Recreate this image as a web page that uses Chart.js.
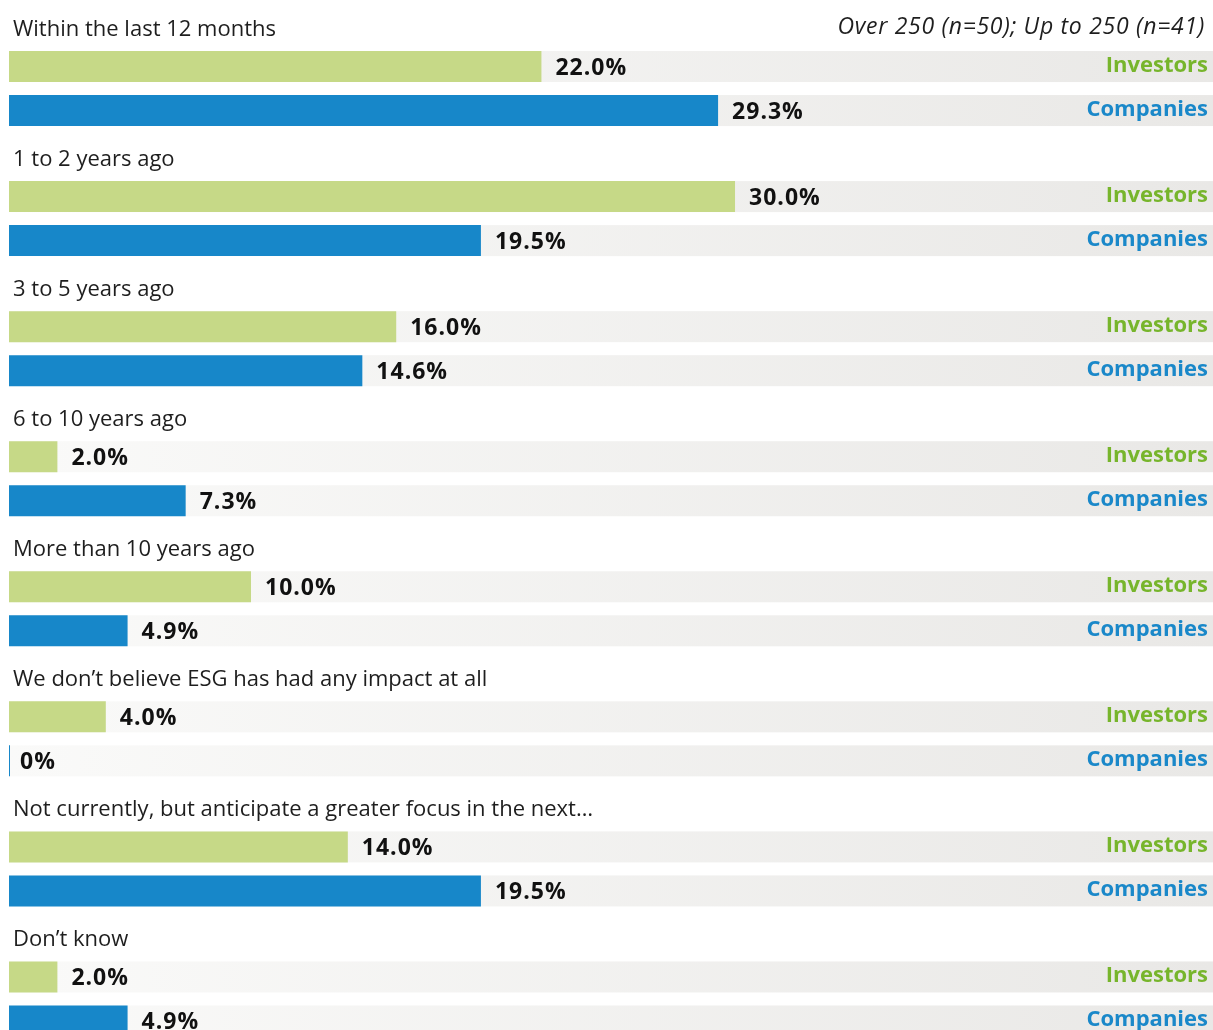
<!DOCTYPE html>
<html>
<head>
<meta charset="utf-8">
<title>ESG focus timing</title>
<script src="https://cdn.jsdelivr.net/npm/chart.js@4/dist/chart.umd.min.js"></script>
<style>
  html, body { margin: 0; padding: 0; background: #ffffff; overflow: hidden; }
  #wrap { position: relative; width: 1213px; height: 1030px; overflow: hidden; }
  canvas { display: block; }
</style>
</head>
<body>
<div id="wrap"><canvas id="chart" width="1213" height="1064"></canvas></div>
<script>
// Answer options, in survey order
const categories = [
  'Within the last 12 months',
  '1 to 2 years ago',
  '3 to 5 years ago',
  '6 to 10 years ago',
  'More than 10 years ago',
  'We don\u2019t believe ESG has had any impact at all',
  'Not currently, but anticipate a greater focus in the next\u2026',
  'Don\u2019t know'
];
// Share of respondents (%)
const investors = [22.0, 30.0, 16.0, 2.0, 10.0, 4.0, 14.0, 2.0];
const companies = [29.3, 19.5, 14.6, 7.3, 4.9, 0, 19.5, 4.9];
const seriesNames = ['Investors', 'Companies'];
const sampleNote = 'Over 250 (n=50); Up to 250 (n=41)';

const barColors = ['#c6d987', '#1787c9'];
const nameColors = ['#77b52c', '#1a88c9'];
const FONT = '"Open Sans", "Noto Sans", sans-serif';

function fmt(v) {
  return v === 0 ? '0%' : v.toFixed(1) + '%';
}

// Light track behind every bar, fading from near-white to pale grey
const trackPlugin = {
  id: 'tracks',
  beforeDatasetsDraw(chart) {
    const { ctx, chartArea } = chart;
    const grad = ctx.createLinearGradient(chartArea.left, 0, chartArea.right, 0);
    grad.addColorStop(0, '#fafaf9');
    grad.addColorStop(1, '#e9e8e6');
    ctx.save();
    ctx.fillStyle = grad;
    chart.data.datasets.forEach((ds, di) => {
      chart.getDatasetMeta(di).data.forEach(bar => {
        const h = bar.height;
        ctx.fillRect(chartArea.left, bar.y - h / 2, chartArea.right - chartArea.left, h);
      });
    });
    ctx.restore();
  }
};

// Category titles, value labels, series names and the sample note
const labelPlugin = {
  id: 'labels',
  afterDatasetsDraw(chart) {
    const { ctx, scales } = chart;
    const y = scales.y;
    ctx.save();
    ctx.textBaseline = 'middle';

    // category title above each pair of bars
    ctx.font = '22px ' + FONT;
    ctx.fillStyle = '#1e1e1e';
    ctx.textAlign = 'left';
    categories.forEach((c, i) => {
      ctx.fillText(c, 13, y.getPixelForValue(i) - 59);
    });

    // sample note, top right
    ctx.font = 'italic 23px ' + FONT;
    ctx.textAlign = 'right';
    ctx.letterSpacing = '0.7px';
    ctx.fillStyle = '#1e1e1e';
    ctx.fillText(sampleNote, 1205, y.getPixelForValue(0) - 61);

    chart.data.datasets.forEach((ds, di) => {
      chart.getDatasetMeta(di).data.forEach((bar, i) => {
        const v = ds.data[i];
        ctx.font = 'bold 23px ' + FONT;
        ctx.letterSpacing = '1px';
        ctx.textAlign = 'left';
        ctx.fillStyle = '#111111';
        const x = v === 0 ? bar.x + 10 : bar.x + 14;
        ctx.fillText(fmt(v), x, bar.y + 1.5);

        ctx.font = 'bold 22px ' + FONT;
        ctx.letterSpacing = '0px';
        ctx.textAlign = 'right';
        ctx.fillStyle = nameColors[di];
        ctx.fillText(seriesNames[di], 1208, bar.y - 1);
      });
    });
    ctx.restore();
  }
};

new Chart(document.getElementById('chart'), {
  type: 'bar',
  data: {
    labels: categories,
    datasets: [
      {
        label: seriesNames[0],
        data: investors,
        backgroundColor: barColors[0],
        categoryPercentage: 88 / 130,
        barPercentage: 31 / 44,
        minBarLength: 1
      },
      {
        label: seriesNames[1],
        data: companies,
        backgroundColor: barColors[1],
        categoryPercentage: 88 / 130,
        barPercentage: 31 / 44,
        minBarLength: 1
      }
    ]
  },
  options: {
    indexAxis: 'y',
    responsive: false,
    animation: false,
    devicePixelRatio: 1,
    layout: { padding: { left: 9, right: 0, top: 23.5, bottom: 0 } },
    plugins: {
      legend: { display: false },
      tooltip: { enabled: false }
    },
    scales: {
      x: { display: false, min: 0, max: 49.75 },
      y: { display: false, offset: true, grid: { display: false } }
    }
  },
  plugins: [trackPlugin, labelPlugin]
});
</script>
</body>
</html>
